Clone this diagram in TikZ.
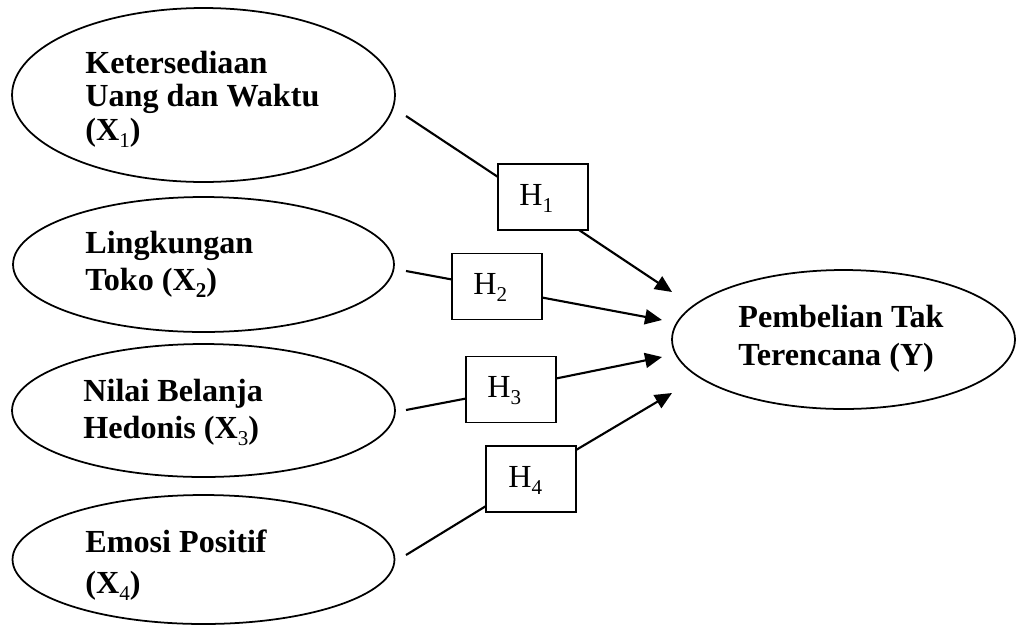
\documentclass[tikz,border=0pt]{standalone}
\usepackage{fontspec}
\setmainfont{Liberation Serif}
\usetikzlibrary{arrows.meta,shapes.geometric,calc}
\newcommand{\lowsub}[1]{\raisebox{-0.22em}{\fontsize{12}{12}\selectfont #1}}
\begin{document}
\begin{tikzpicture}[x=0.02cm,y=-0.02cm,
  oval/.style={draw,ellipse,line width=1pt,inner sep=0pt,outer sep=0pt},
  hbox/.style={draw,rectangle,line width=1.1pt,minimum width=1.8cm,minimum height=1.32cm,inner sep=0pt,outer sep=0pt},
  vartext/.style={anchor=base west,align=left,inner sep=0pt,font=\bfseries\fontsize{18.3}{#1}\selectfont},
  hlabel/.style={anchor=base west,inner sep=0pt,font=\fontsize{18.3}{21}\selectfont},
  link/.style={line width=1.2pt},
  arr/.style={line width=1.2pt,-{Triangle[length=0.34cm,width=0.3cm]}}
]
\useasboundingbox (0,0) rectangle (1016,626);

% ellipses
\node[oval,minimum width=7.66cm,minimum height=3.48cm] (e1) at (203.5,95) {};
\node[oval,minimum width=7.62cm,minimum height=2.7cm] (e2) at (203.5,264.5) {};
\node[oval,minimum width=7.66cm,minimum height=2.66cm] (e3) at (203.5,410.5) {};
\node[oval,minimum width=7.64cm,minimum height=2.58cm] (e4) at (203.5,559.5) {};
\node[oval,minimum width=6.86cm,minimum height=2.78cm] (y) at (843.5,339.5) {};

% texts (anchored at the baseline of the last line)
\node[vartext=18.8pt] (t1) at (85,140) {Ketersediaan\\Uang dan Waktu\\(X\lowsub{\mdseries 1})};
\node[vartext=21pt] (t2) at (85,290) {Lingkungan\\Toko (X\lowsub{2})};
\node[vartext=21pt] (t3) at (83,438) {Nilai Belanja\\Hedonis (X\lowsub{\mdseries 3})};
\node[vartext=23.3pt] (t4) at (85,593) {Emosi Positif\\(X\lowsub{\mdseries 4})};
\node[vartext=21.6pt] (ty) at (738,365) {Pembelian Tak\\Terencana (Y)};

% hypothesis boxes
\node[hbox] (h1) at (543,197) {};
\node[hbox] (h2) at (497,286.5) {};
\node[hbox] (h3) at (511,389.5) {};
\node[hbox] (h4) at (531,479) {};
\node[hlabel] (l1) at ($(h1.north west)+(21,41)$) {H\lowsub{1}};
\node[hlabel] (l2) at ($(h2.north west)+(21,41)$) {H\lowsub{2}};
\node[hlabel] (l3) at ($(h3.north west)+(21,41)$) {H\lowsub{3}};
\node[hlabel] (l4) at ($(h4.north west)+(22,41)$) {H\lowsub{4}};

% free ends
\coordinate (s1) at (406,116);
\coordinate (s2) at (406,271);
\coordinate (s3) at (406,410);
\coordinate (s4) at (406,555);
\coordinate (p1) at (672,292);
\coordinate (p2) at (662,320);
\coordinate (p3) at (662,357);
\coordinate (p4) at (672,393);

% connectors
\draw[link] (s1) -- ($(h1.north west)+(0,13)$);
\draw[link] (s2) -- ($(h2.north west)+(0,26)$);
\draw[link] (s3) -- ($(h3.north west)+(0,42)$);
\draw[link] (s4) -- ($(h4.north west)+(0,60)$);
\draw[arr] ($(h1.south east)+(-9,0)$) -- (p1);
\draw[arr] ($(h2.north east)+(0,44)$) -- (p2);
\draw[arr] ($(h3.north east)+(0,22)$) -- (p3);
\draw[arr] ($(h4.north east)+(0,4)$) -- (p4);
\end{tikzpicture}
\end{document}
